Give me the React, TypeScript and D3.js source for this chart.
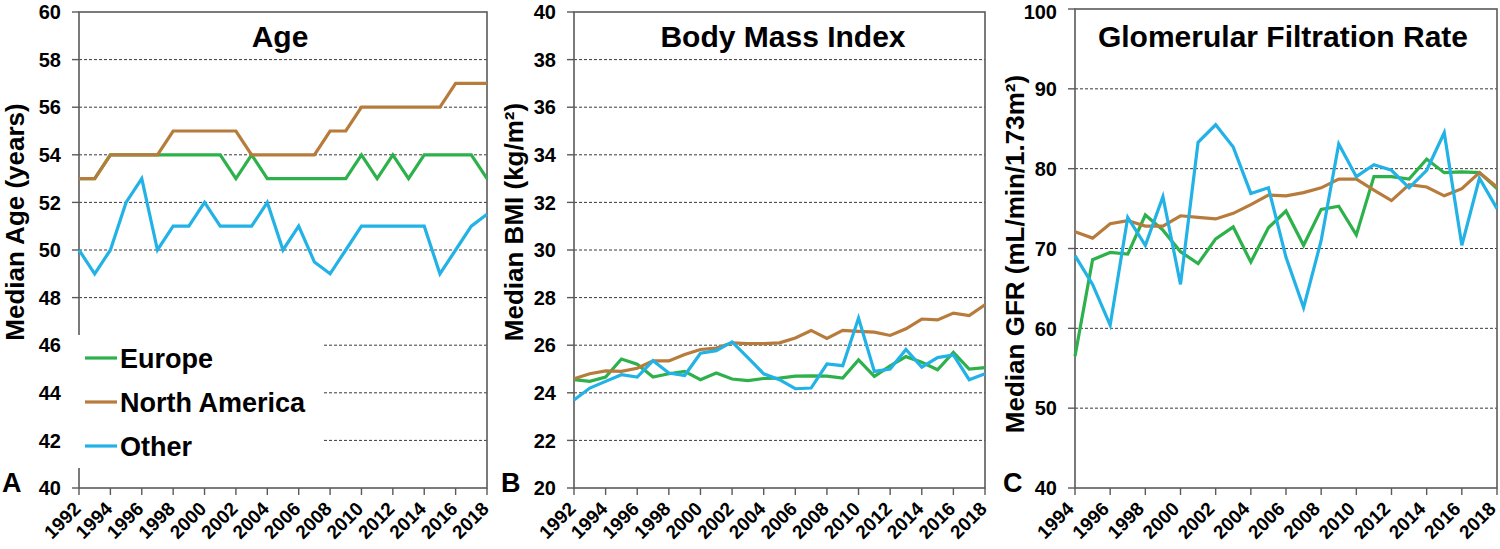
import React from 'react';
import * as d3 from 'd3';

const yearsAB = [1992, 1993, 1994, 1995, 1996, 1997, 1998, 1999, 2000, 2001, 2002, 2003, 2004, 2005, 2006, 2007, 2008, 2009, 2010, 2011, 2012, 2013, 2014, 2015, 2016, 2017, 2018];
const yearsC = [1994, 1995, 1996, 1997, 1998, 1999, 2000, 2001, 2002, 2003, 2004, 2005, 2006, 2007, 2008, 2009, 2010, 2011, 2012, 2013, 2014, 2015, 2016, 2017, 2018];

const xTicksAB = [1992, 1994, 1996, 1998, 2000, 2002, 2004, 2006, 2008, 2010, 2012, 2014, 2016, 2018];
const xTicksC = [1994, 1996, 1998, 2000, 2002, 2004, 2006, 2008, 2010, 2012, 2014, 2016, 2018];
const ageTicks = [40, 42, 44, 46, 48, 50, 52, 54, 56, 58, 60];
const bmiTicks = [20, 22, 24, 26, 28, 30, 32, 34, 36, 38, 40];
const gfrTicks = [40, 50, 60, 70, 80, 90, 100];

const ageEurope = [53, 53, 54, 54, 54, 54, 54, 54, 54, 54, 53, 54, 53, 53, 53, 53, 53, 53, 54, 53, 54, 53, 54, 54, 54, 54, 53];
const ageNorthAmerica = [53, 53, 54, 54, 54, 54, 55, 55, 55, 55, 55, 54, 54, 54, 54, 54, 55, 55, 56, 56, 56, 56, 56, 56, 57, 57, 57];
const ageOther = [50, 49, 50, 52, 53, 50, 51, 51, 52, 51, 51, 51, 52, 50, 51, 49.5, 49, 50, 51, 51, 51, 51, 51, 49, 50, 51, 51.5];

const bmiEurope = [24.55, 24.48, 24.66, 25.42, 25.2, 24.66, 24.8, 24.9, 24.55, 24.83, 24.58, 24.51, 24.6, 24.62, 24.7, 24.71, 24.7, 24.62, 25.38, 24.69, 25.13, 25.52, 25.28, 24.97, 25.7, 25.0, 25.06];
const bmiNorthAmerica = [24.59, 24.8, 24.92, 24.9, 25.03, 25.34, 25.34, 25.61, 25.82, 25.88, 26.1, 26.07, 26.07, 26.1, 26.3, 26.62, 26.28, 26.62, 26.58, 26.55, 26.41, 26.69, 27.1, 27.06, 27.35, 27.24, 27.7];
const bmiOther = [23.7, 24.2, 24.48, 24.76, 24.66, 25.35, 24.83, 24.73, 25.66, 25.77, 26.14, 25.48, 24.8, 24.55, 24.17, 24.2, 25.21, 25.14, 27.14, 24.9, 25.0, 25.82, 25.08, 25.48, 25.59, 24.55, 24.8];

const gfrEurope = [56.5, 68.6, 69.5, 69.3, 74.2, 72.3, 69.6, 68.1, 71.2, 72.7, 68.3, 72.6, 74.7, 70.4, 74.9, 75.3, 71.7, 79.0, 79.0, 78.7, 81.2, 79.5, 79.6, 79.5, 77.5];
const gfrNorthAmerica = [72.1, 71.3, 73.1, 73.5, 72.8, 72.8, 74.1, 73.9, 73.7, 74.4, 75.5, 76.7, 76.6, 77.0, 77.6, 78.7, 78.7, 77.3, 76.0, 78.0, 77.7, 76.6, 77.5, 79.5, 77.7];
const gfrOther = [69.1, 65.5, 60.4, 73.9, 70.4, 76.5, 65.5, 83.3, 85.5, 82.7, 76.9, 77.6, 68.9, 62.6, 71.0, 83.1, 79.0, 80.5, 79.8, 77.6, 79.8, 84.5, 70.4, 78.8, 75.0];

const seriesNames = ['Europe', 'North America', 'Other'];
const seriesColors = ['#2DB14B', '#B77B3C', '#22B2E6'];

const FONT = '"Liberation Sans", Arial, sans-serif';

type PanelProps = {
  x0: number; x1: number; y0: number; y1: number;
  years: number[]; xTicks: number[];
  yDomain: [number, number]; yTicks: number[];
  series: number[][];
  title: string; titleX: number;
  yLabel: string; yLabelX: number; yLabelY: number;
  letter: string; letterX: number;
  xLabelShift: number;
  legend?: boolean;
};

function Panel(p: PanelProps) {
  const x = d3.scaleLinear().domain([p.years[0], p.years[p.years.length - 1]]).range([p.x0, p.x1]);
  const y = d3.scaleLinear().domain(p.yDomain).range([p.y1, p.y0]);
  const line = d3.line<number>().x((_, i) => x(p.years[i])).y((d) => y(d));
  const inner = p.yTicks.filter((t) => t !== p.yDomain[0] && t !== p.yDomain[1]);
  return (
    <g>
      {inner.map((t) => (
        <line key={'g' + t} x1={p.x0} x2={p.x1} y1={y(t)} y2={y(t)} stroke="#3a3a3a" strokeWidth={1} strokeDasharray="3,2" />
      ))}
      <rect x={p.x0} y={p.y0} width={p.x1 - p.x0} height={p.y1 - p.y0} fill="none" stroke="#5a5a5a" strokeWidth={1.6} />
      {p.yTicks.map((t) => (
        <line key={'yt' + t} x1={p.x0 - 7} x2={p.x0} y1={y(t)} y2={y(t)} stroke="#5a5a5a" strokeWidth={1.4} />
      ))}
      {p.xTicks.map((t) => (
        <line key={'xt' + t} x1={x(t)} x2={x(t)} y1={p.y1} y2={p.y1 + 7} stroke="#5a5a5a" strokeWidth={1.4} />
      ))}
      {p.legend && (
        <g>
          <rect x={64} y={335} width={259} height={133} fill="#ffffff" />
          {seriesNames.map((n, i) => (
            <g key={n}>
              <line x1={85} x2={117} y1={358 + i * 44} y2={358 + i * 44} stroke={seriesColors[i]} strokeWidth={3.2} />
              <text x={120} y={358 + i * 44} dy="0.36em" fontSize={27} fontWeight="bold" fontFamily={FONT} fill="#000">{n}</text>
            </g>
          ))}
        </g>
      )}
      {p.series.map((s, i) => (
        <path key={'s' + i} d={line(s) || ''} fill="none" stroke={seriesColors[i]} strokeWidth={3.2} strokeLinejoin="miter" />
      ))}
      {p.yTicks.map((t) => (
        <text key={'yl' + t} x={p.x0 - 18} y={Math.max(y(t), 12)} dy="0.36em" textAnchor="end" fontSize={20} fontWeight="bold" fontFamily={FONT} fill="#000">{t}</text>
      ))}
      {p.xTicks.map((t) => (
        <text key={'xl' + t} transform={`translate(${x(t) + p.xLabelShift},${p.y1 + 22}) rotate(-45)`} textAnchor="end" fontSize={19} fontWeight="bold" fontFamily={FONT} fill="#000">{t}</text>
      ))}
      <text x={p.titleX} y={47} textAnchor="middle" fontSize={30} fontWeight="bold" fontFamily={FONT} fill="#000">{p.title}</text>
      <text transform={`translate(${p.yLabelX},${p.yLabelY}) rotate(-90)`} textAnchor="middle" fontSize={26} fontWeight="bold" fontFamily={FONT} fill="#000">{p.yLabel}</text>
      <text x={p.letterX} y={492} fontSize={27} fontWeight="bold" fontFamily={FONT} fill="#000">{p.letter}</text>
    </g>
  );
}

export default function App() {
  return (
    <svg width={1500} height={549} style={{ position: 'absolute', left: 0, top: 0, background: '#fff' }}>
      <rect x={0} y={0} width={1500} height={549} fill="#fff" />
      <Panel x0={79} x1={487} y0={12} y1={488} years={yearsAB} xTicks={xTicksAB} yDomain={[40, 60]} yTicks={ageTicks}
        series={[ageEurope, ageNorthAmerica, ageOther]} title="Age" titleX={280}
        yLabel="Median Age (years)" yLabelX={24} yLabelY={222} letter="A" letterX={2} xLabelShift={3} legend />
      <Panel x0={574} x1={985} y0={12} y1={488} years={yearsAB} xTicks={xTicksAB} yDomain={[20, 40]} yTicks={bmiTicks}
        series={[bmiEurope, bmiNorthAmerica, bmiOther]} title="Body Mass Index" titleX={783}
        yLabel="Median BMI (kg/m²)" yLabelX={523} yLabelY={222} letter="B" letterX={501} xLabelShift={3} />
      <Panel x0={1075} x1={1497} y0={9} y1={488} years={yearsC} xTicks={xTicksC} yDomain={[40, 100]} yTicks={gfrTicks}
        series={[gfrEurope, gfrNorthAmerica, gfrOther]} title="Glomerular Filtration Rate" titleX={1283}
        yLabel="Median GFR (mL/min/1.73m²)" yLabelX={1024} yLabelY={254} letter="C" letterX={1003} xLabelShift={0} />
    </svg>
  );
}
